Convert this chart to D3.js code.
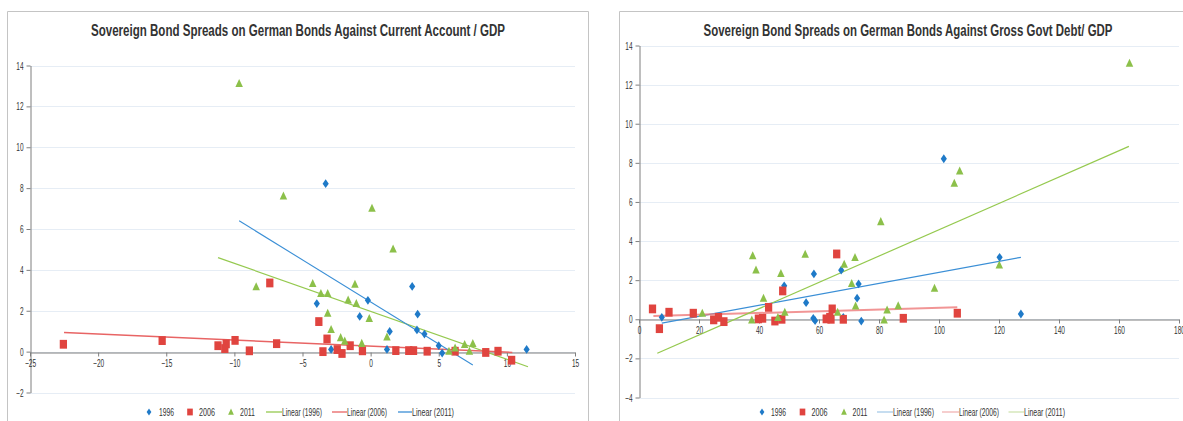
<!DOCTYPE html>
<html>
<head>
<meta charset="utf-8">
<script src="https://cdn.jsdelivr.net/npm/d3@7"></script>
<style>
  html, body { margin: 0; padding: 0; background: #fff; }
  svg { display: block; }
  text { font-family: "Liberation Sans", Arial, sans-serif; fill: #333; }
</style>
</head>
<body>
<svg id="chart" width="1183" height="421"></svg>
<script>
// ---- data: current account / GDP (left chart) ----
var ca1996 = [[-3.3, 8.22], [-3.95, 2.35], [-0.2, 2.51], [-0.8, 1.72], [3.05, 3.19], [3.45, 1.83],
  [3.4, 1.06], [3.95, 0.86], [1.4, 0.99], [5.0, 0.29], [5.25, -0.07], [11.45, 0.11],
  [-2.9, 0.11], [1.2, 0.11]];
var ca2006 = [[-22.55, 0.36], [-15.3, 0.54], [-11.2, 0.29], [-10.6, 0.38], [-10.7, 0.15], [-9.95, 0.55],
  [-8.9, 0.04], [-7.4, 3.36], [-6.9, 0.39], [-3.8, 1.47], [-3.2, 0.62], [-3.5, 0.0],
  [-2.45, 0.1], [-2.1, -0.09], [-1.5, 0.29], [-0.6, 0.04], [1.85, 0.05], [2.8, 0.05],
  [3.15, 0.05], [4.15, 0.02], [6.2, 0.02], [8.45, -0.04], [9.35, 0.02], [10.35, -0.42]];
var ca2011 = [[-9.65, 13.13], [-6.4, 7.62], [0.1, 7.02], [1.65, 5.03], [-8.4, 3.18], [-4.25, 3.34],
  [-3.65, 2.85], [-3.15, 2.85], [-1.15, 3.3], [-1.65, 2.53], [-1.05, 2.36], [-3.15, 1.88],
  [-0.1, 1.63], [-2.9, 1.09], [-2.2, 0.69], [-1.9, 0.52], [-0.65, 0.41], [1.2, 0.72],
  [5.75, 0.02], [6.2, 0.18], [6.9, 0.35], [7.5, 0.4], [7.25, 0.02]];
// trend line end points [x0, y0, x1, y1]
var caTrend1996 = [-11.2, 4.6, 11.55, -0.74];
var caTrend2006 = [-22.5, 0.94, 10.4, -0.04];
var caTrend2011 = [-9.65, 6.4, 7.5, -0.65];
var caXTicks = [-25, -20, -15, -10, -5, 0, 5, 10, 15];
var caYTicks = [-2, 0, 2, 4, 6, 8, 10, 12, 14];

// ---- data: gross govt debt / GDP (right chart) ----
var debt1996 = [[7.6, 0.1], [48.4, 1.71], [55.7, 0.85], [58.3, 2.32], [58.1, 0.05], [58.7, -0.07],
  [67.4, 2.51], [68.1, 0.1], [73.2, 1.81], [72.7, 1.08], [74.1, -0.09], [101.6, 8.21],
  [120.2, 3.17], [127.3, 0.27]];
var debt2006 = [[4.5, 0.53], [6.8, -0.48], [10.0, 0.36], [18.1, 0.31], [24.9, -0.03], [26.5, 0.1],
  [28.3, -0.12], [39.8, 0.02], [41.2, 0.05], [43.2, 0.61], [45.3, -0.09], [47.6, 0.0],
  [47.9, 1.45], [62.4, 0.02], [63.6, 0.1], [64.0, 0.0], [64.4, 0.53], [65.9, 3.34],
  [68.1, 0.0], [88.1, 0.05], [106.1, 0.31]];
var debt2011 = [[21.1, 0.31], [37.6, -0.03], [37.9, 3.26], [39.0, 2.53], [41.5, 1.08], [46.3, 0.1],
  [47.3, 2.35], [48.6, 0.36], [55.4, 3.33], [66.2, 0.36], [68.4, 2.82], [70.9, 1.84],
  [72.0, 3.16], [72.2, 0.68], [80.6, 5.0], [81.7, -0.03], [82.7, 0.48], [86.4, 0.7],
  [98.5, 1.59], [105.1, 6.96], [106.9, 7.59], [120.1, 2.78], [163.5, 13.1]];
var debtTrend1996 = [7.6, -0.2, 127.3, 3.17];
var debtTrend2006 = [4.8, 0.17, 106.1, 0.61];
var debtTrend2011 = [6.1, -1.74, 163.3, 8.84];
var debtXTicks = [0, 20, 40, 60, 80, 100, 120, 140, 160, 180];
var debtYTicks = [-4, -2, 0, 2, 4, 6, 8, 10, 12, 14];

var legendLabels = ['1996', '2006', '2011', 'Linear (1996)', 'Linear (2006)', 'Linear (2011)'];

var blue = '#1f7ac8', red = '#e0443f', green = '#8cc04a';

var svg = d3.select('#chart');

// squeeze text horizontally like the narrow font in the picture
function squeeze(sel, k) {
  sel.each(function () {
    var w = this.getComputedTextLength();
    d3.select(this).attr('textLength', w * k).attr('lengthAdjust', 'spacingAndGlyphs');
  });
}

var shapes = {
  diamond: function (g, s) { g.append('path').attr('d', 'M0,' + (-4 * s) + 'L' + (2.8 * s) + ',0L0,' + (4 * s) + 'L' + (-2.8 * s) + ',0Z'); },
  square: function (g, s) { g.append('rect').attr('x', -3.3 * s).attr('y', -4 * s).attr('width', 6.6 * s).attr('height', 8 * s); },
  triangle: function (g, s) { g.append('path').attr('d', 'M0,' + (-4 * s) + 'L' + (3.4 * s) + ',' + (3.3 * s) + 'L' + (-3.4 * s) + ',' + (3.3 * s) + 'Z'); }
};

function drawChart(c) {
  var g = svg.append('g');

  // frame
  g.append('path')
    .attr('d', 'M' + c.frame[0] + ',425V' + c.frame[1] + 'H' + c.frame[2] + 'V425')
    .attr('fill', 'none').attr('stroke', '#c4c4c4');

  var x = d3.scaleLinear().domain(c.xDomain).range(c.xRange);
  var y = d3.scaleLinear().domain(c.yDomain).range(c.yRange);

  // gridlines
  g.append('g').selectAll('line').data(c.yTicks).join('line')
    .attr('x1', c.xRange[0]).attr('x2', c.xRange[1])
    .attr('y1', d => Math.round(y(d)) + 0.5).attr('y2', d => Math.round(y(d)) + 0.5)
    .attr('stroke', '#e6edf5');

  // y axis
  var ya = g.append('g').attr('transform', 'translate(' + (Math.round(c.xRange[0]) + 0.5) + ',0)')
    .call(d3.axisLeft(y).tickValues(c.yTicks).tickSize(4).tickSizeOuter(0).tickFormat(d3.format('d')));
  // x axis at y = 0
  var xa = g.append('g').attr('transform', 'translate(0,' + (Math.round(y(0)) + 0.5) + ')')
    .call(d3.axisBottom(x).tickValues(c.xTicks).tickSize(4).tickSizeOuter(0).tickFormat(d3.format('d')));
  [ya, xa].forEach(function (a) {
    a.select('.domain').attr('stroke', '#7f7f7f');
    a.selectAll('.tick line').attr('stroke', '#7f7f7f');
    a.selectAll('text').attr('font-size', 10.5).attr('font-family', '"Liberation Sans", Arial, sans-serif').attr('fill', '#333');
  });
  ya.selectAll('text').attr('x', -7).attr('dy', '0.34em');
  xa.selectAll('text').attr('y', 7.5).attr('dy', '0.71em');
  squeeze(ya.selectAll('text'), 0.62);
  squeeze(xa.selectAll('text'), 0.62);

  // trend lines
  c.trends.forEach(function (t) {
    g.append('line')
      .attr('x1', x(t.p[0])).attr('y1', y(t.p[1]))
      .attr('x2', x(t.p[2])).attr('y2', y(t.p[3]))
      .attr('stroke', t.color).attr('stroke-width', t.w).attr('stroke-opacity', t.op);
  });

  // points
  c.series.forEach(function (s) {
    g.append('g').selectAll('g').data(s.pts).join('g')
      .attr('transform', d => 'translate(' + x(d[0]) + ',' + y(d[1]) + ')')
      .attr('fill', s.color)
      .each(function () { shapes[s.shape](d3.select(this), 1.1); });
  });

  // title
  var t = g.append('text').attr('x', c.titleX).attr('y', 35.5)
    .attr('text-anchor', 'middle').attr('font-size', 16).attr('font-weight', 'bold')
    .attr('fill', '#111').text(c.title);
  t.attr('textLength', c.titleW).attr('lengthAdjust', 'spacingAndGlyphs');

  // legend
  var lg = g.append('g');
  var ly = 412;
  c.series.forEach(function (s, i) {
    var m = lg.append('g').attr('transform', 'translate(' + c.legMark[i] + ',' + ly + ')').attr('fill', s.color);
    shapes[s.shape](m, 0.85);
  });
  c.trends.forEach(function (t, i) {
    lg.append('line').attr('x1', c.legLine[i][0]).attr('x2', c.legLine[i][1])
      .attr('y1', ly).attr('y2', ly)
      .attr('stroke', t.legColor).attr('stroke-width', 1.3);
  });
  legendLabels.forEach(function (l, i) {
    lg.append('text').attr('x', c.legText[i]).attr('y', ly + 3.5)
      .attr('font-size', 10.5).attr('fill', '#333').text(l)
      .attr('textLength', c.legTextW[i]).attr('lengthAdjust', 'spacingAndGlyphs');
  });
}

drawChart({
  title: 'Sovereign Bond Spreads on German Bonds Against Current Account / GDP',
  titleX: 298, titleW: 414,
  frame: [7.5, 11.5, 588.5],
  xDomain: [-25, 15], xRange: [30, 575],
  yDomain: [-2, 14], yRange: [392.5, 65.5],
  xTicks: caXTicks, yTicks: caYTicks,
  series: [
    { pts: ca1996, color: blue, shape: 'diamond' },
    { pts: ca2006, color: red, shape: 'square' },
    { pts: ca2011, color: green, shape: 'triangle' }
  ],
  trends: [
    { p: caTrend1996, color: '#95c94f', legColor: '#95c94f', w: 1.2, op: 1 },
    { p: caTrend2006, color: '#e86464', legColor: '#e86464', w: 1.5, op: 1 },
    { p: caTrend2011, color: '#3b8fd6', legColor: '#3b8fd6', w: 1.1, op: 1 }
  ],
  legMark: [149, 190, 231],
  legLine: [[266, 282], [332, 347], [398, 412]],
  legText: [159, 199, 240, 282, 347, 412],
  legTextW: [15, 16, 15, 40, 40, 42]
});

drawChart({
  title: 'Sovereign Bond Spreads on German Bonds Against Gross Govt Debt/ GDP',
  titleX: 908, titleW: 409,
  frame: [619.5, 11.5, 1200],
  xDomain: [0, 180], xRange: [639, 1179],
  yDomain: [-4, 14], yRange: [397.5, 45.5],
  xTicks: debtXTicks, yTicks: debtYTicks,
  series: [
    { pts: debt1996, color: blue, shape: 'diamond' },
    { pts: debt2006, color: red, shape: 'square' },
    { pts: debt2011, color: green, shape: 'triangle' }
  ],
  trends: [
    { p: debtTrend1996, color: '#3b8fd6', legColor: '#a8cbe8', w: 1.2, op: 1 },
    { p: debtTrend2006, color: '#ee7a7a', legColor: '#f2b3b3', w: 2, op: 0.8 },
    { p: debtTrend2011, color: '#95c94f', legColor: '#cfe4b0', w: 1.2, op: 1 }
  ],
  legMark: [762, 802.5, 844],
  legLine: [[877, 893], [942, 959], [1008.5, 1024]],
  legText: [771, 811.5, 852.5, 893, 959, 1024],
  legTextW: [15, 16, 15, 41, 40, 41]
});
</script>
</body>
</html>
